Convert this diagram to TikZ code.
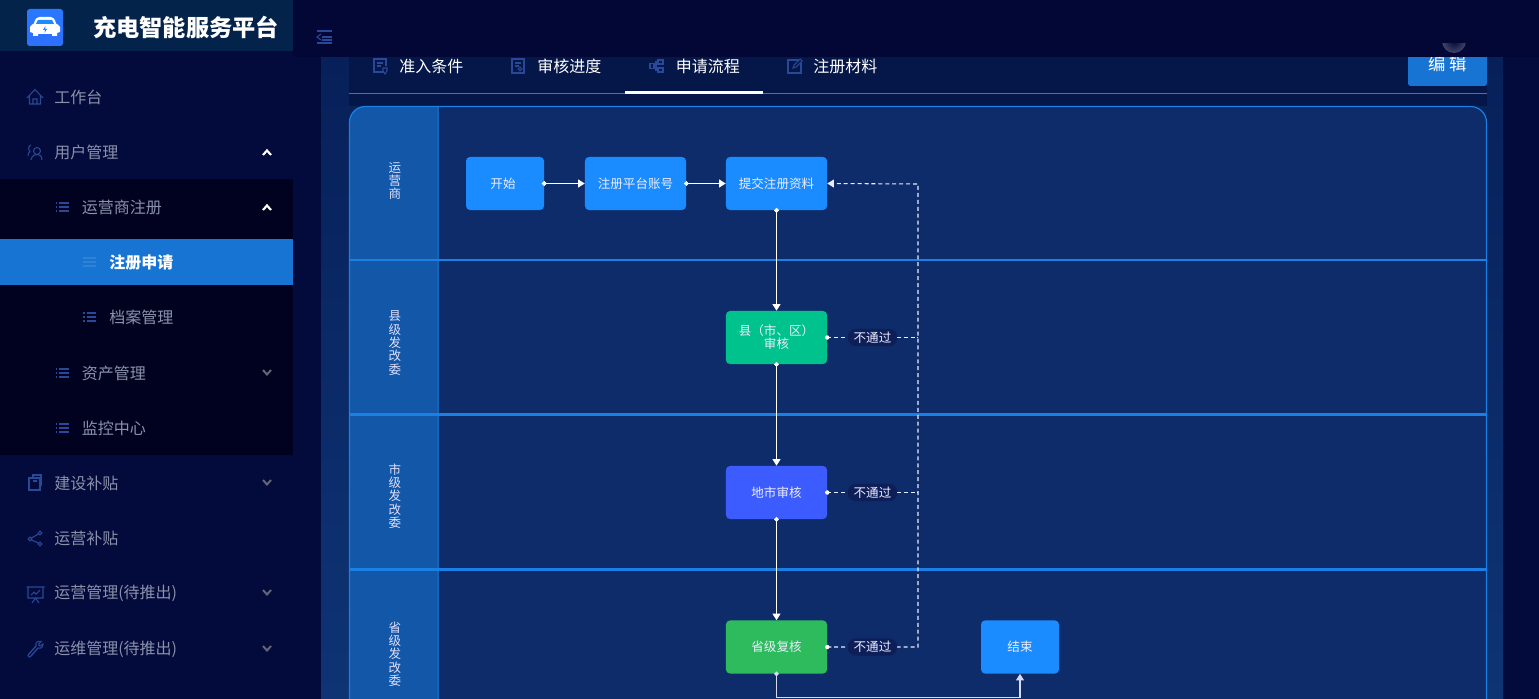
\documentclass[tikz,border=0pt]{standalone}
\usepackage{fontspec}
\setmainfont{Noto Sans CJK SC}
\usetikzlibrary{arrows.meta,calc}
\definecolor{pagebg}{HTML}{020B3B}
\definecolor{topbg}{HTML}{020736}
\definecolor{logobg}{HTML}{04234A}
\definecolor{subbg}{HTML}{01021F}
\definecolor{activebg}{HTML}{1874D2}
\definecolor{tabbg}{HTML}{051748}
\definecolor{lanebg}{HTML}{0E2C6A}
\definecolor{headbg}{HTML}{1257A8}
\definecolor{laneline}{HTML}{1A80E6}
\definecolor{iconblue}{HTML}{2A4898}
\definecolor{panelhigh}{HTML}{07205A}
\definecolor{panellow}{HTML}{0E3474}
\definecolor{menutext}{HTML}{8B91AA}
\definecolor{nodeblue}{HTML}{1A8CFF}
\definecolor{nodeteal}{HTML}{00C28C}
\definecolor{nodeindigo}{HTML}{3D5CFF}
\definecolor{nodegreen}{HTML}{2DBB5D}
\definecolor{passbg}{HTML}{0D1E58}
\newcommand{\fs}[1]{\fontsize{#1pt}{#1pt}\selectfont}
\newcommand{\iconlist}[2]{\begin{scope}[shift={(#1,#2)},iconblue,line width=0.8pt]
 \foreach \yy in {-4,0,4}{\draw (-6.5,\yy)--(-5,\yy); \draw (-3,\yy)--(6.5,\yy);}
 \end{scope}}
\newcommand{\chevup}[3]{\draw[#3,line width=1.6pt] (#1-4,#2+2.5)--(#1,#2-2)--(#1+4,#2+2.5);}
\newcommand{\chevdown}[2]{\draw[menutext!70!black,line width=1.5pt] (#1-4,#2-2.5)--(#1,#2+2)--(#1+4,#2-2.5);}
\tikzset{
 x=0.75pt,y=-0.75pt,
 flowbox/.style={rounded corners=3pt,text=white!93!blue,font=\fs{9.4},inner sep=0pt,minimum height=39.8pt,align=center},
 boxwide/.style={flowbox,minimum width=75.8pt},
 boxnarrow/.style={flowbox,minimum width=58.5pt},
 menuitem/.style={anchor=west,text=menutext,font=\fs{12},inner sep=0pt},
 tabitem/.style={anchor=west,text=white,font=\fs{12},inner sep=0pt},
 lanetext/.style={text=white!88!blue,font=\fontsize{9.4pt}{10pt}\selectfont,align=center,inner sep=0pt},
 passtag/.style={fill=passbg,rounded corners=6pt,text=white!93!blue,font=\fs{9.4},inner sep=0pt,minimum width=37pt,minimum height=13pt},
 flowline/.style={white,line width=1pt,{Circle[length=3.4pt,width=3.4pt]}-{Triangle[length=5pt,width=6pt]},shorten <=-1.7pt},
 rejectline/.style={white!92!blue,line width=0.8pt,dash pattern=on 3pt off 2.2pt},
}
\begin{document}
\begin{tikzpicture}
\useasboundingbox (0,0) rectangle (1539,699);
\clip (0,0) rectangle (1539,699);
% backgrounds
\fill[pagebg] (0,0) rectangle (1539,699);
\shade[top color=panelhigh,bottom color=panellow] (321,57) rectangle (1503,699);
\fill[tabbg] (349,57) rectangle (1487,106);
% edit button (partly under the top bar)
\fill[activebg,rounded corners=2pt] (1408,40) rectangle (1487,86);
\node[anchor=center,text=white,font=\fs{13}] (editbtn) at (1447.5,64) {编 辑};
% tabs
\draw[laneline,line width=0.9pt] (349,93.5)--(1487,93.5);
\draw[white,line width=1.6pt] (625,92.5)--(763,92.5);
\node[tabitem] (tab1) at (399,66) {准入条件};
\node[tabitem] (tab2) at (537,66) {审核进度};
\node[tabitem] (tab3) at (675.5,66) {申请流程};
\node[tabitem] (tab4) at (813,66) {注册材料};
\begin{scope}[iconblue,line width=0.8pt]
 \draw (384,72)--(374,72)--(374,59)--(386,59)--(386,66);
 \draw (377,63)--(383,63) (377,66)--(381,66);
 \draw (383,68)--(387,68)--(387,71)--(385,74)--(383,71)--cycle;
 \draw (512,59) rectangle (524,73);
 \draw (515,63)--(521,63) (515,66)--(519,66);
 \draw (520,69) circle (1.8);
 \draw (650,63.5) rectangle (654,68.5);
 \draw (658,60) rectangle (663,64) (658,68) rectangle (663,72);
 \draw (654,66)--(656,66) (658,62)--(656,62)--(656,70)--(658,70);
 \draw (799,60)--(788,60)--(788,73)--(801,73)--(801,63);
 \draw (793,68)--(794,65)--(800,59)--(802,61)--(796,67)--cycle;
\end{scope}
% swimlane
\begin{scope}
 \clip[rounded corners=12pt] (349,106) rectangle (1487,760);
 \fill[lanebg] (349,106) rectangle (1487,760);
 \fill[headbg] (349,106) rectangle (438,760);
 \draw[headbg!70!laneline,line width=1.2pt] (438,106)--(438,760);
 \foreach \yy in {260,414.5,569.5}{\draw[laneline,line width=1.8pt] (349,\yy)--(1487,\yy);}
\end{scope}
\draw[laneline,line width=0.85pt,rounded corners=12pt] (349.5,760)--(349.5,106.5)--(1486.5,106.5)--(1486.5,760);
\node[lanetext] (lane1) at (395,181) {运\\营\\商};
\node[lanetext] (lane2) at (395,343) {县\\级\\发\\改\\委};
\node[lanetext] (lane3) at (395,496) {市\\级\\发\\改\\委};
\node[lanetext] (lane4) at (395,654) {省\\级\\发\\改\\委};
% flow nodes
\node[boxnarrow,fill=nodeblue] (start) at (505,183.5) {开始\hspace*{3pt}};
\node[boxwide,fill=nodeblue] (account) at (635.5,183.5) {注册平台账号};
\node[boxwide,fill=nodeblue] (submit) at (776.5,183.5) {提交注册资料};
\node[boxwide,fill=nodeteal,font=\fontsize{9.4pt}{9.8pt}\selectfont] (county) at (776.5,337.5) {县（市、区）\\审核};
\node[boxwide,fill=nodeindigo] (city) at (776.5,492.5) {地市审核};
\node[boxwide,fill=nodegreen] (province) at (776.5,647) {省级复核};
\node[boxnarrow,fill=nodeblue] (finish) at (1020,647) {结束};
\coordinate (rail) at (918,184);
\coordinate (lowrun) at (900,697.5);
% connectors
\draw[flowline] (start.east)--(account.west);
\draw[flowline] (account.east)--(submit.west);
\draw[flowline] (submit.south)--(county.north);
\draw[flowline] (county.south)--(city.north);
\draw[flowline] (city.south)--(province.north);
\draw[flowline,white!85!blue] (province.south) |- (lowrun) -| (finish.south);
\draw[rejectline,-{Triangle[length=5pt,width=6pt]}] (province.east) -| (rail) -- (submit.east);
\draw[rejectline] (county.east)--(county.east -| rail);
\draw[rejectline] (city.east)--(city.east -| rail);
\foreach \n in {county,city,province}{\fill[white] (\n.east) circle (2.2);}
\node[passtag] (pass1) at (872.5,337.5) {不通过};
\node[passtag] (pass2) at (872.5,492.5) {不通过};
\node[passtag] (pass3) at (872.5,647) {不通过};
% top bar
\fill[topbg] (293,0) rectangle (1539,57);
\begin{scope}
 \clip (1440,44) rectangle (1470,57);
 \shade[inner color=topbg,outer color=menutext!45!topbg] (1454,41) circle (12);
\end{scope}
\begin{scope}[iconblue,line width=0.8pt]
 \draw (317,31)--(332,31) (322,37)--(332,37) (322,40)--(332,40) (317,43)--(332,43);
 \draw (321,34)--(317,37)--(321,40);
\end{scope}
% sidebar
\fill[pagebg] (0,0) rectangle (293,699);
\fill[logobg] (0,0) rectangle (293,51);
\fill[subbg] (0,179) rectangle (293,455);
\fill[activebg] (0,239) rectangle (293,285);
% logo
\shade[top color=nodeblue!60!nodeindigo,bottom color=nodeindigo!60!nodeblue,rounded corners=2pt] (27,9) rectangle (63,46);
\fill[white] (30,32)--(30,27) .. controls (31,25) and (33,24) .. (34,23.5) .. controls (35,19) and (37,17) .. (39,17)--(51,17) .. controls (53,17) and (55,19) .. (56,23.5) .. controls (57,24) and (59,25) .. (60,27)--(60,32)--(57,33)--(57,36)--(52,36)--(52,34)--(38,34)--(38,36)--(33,36)--(33,33)--cycle;
\fill[nodeblue] (38,20)--(52,20)--(54,24)--(36,24)--cycle;
\fill[nodeblue] (45.5,26)--(43,30)--(45,30)--(44.5,33)--(47,29)--(45,29)--cycle;
\node[anchor=west,text=white,font=\fs{17.4}\bfseries,inner sep=0pt] (brand) at (93,27.5) {充电智能服务平台};
% menu
\node[menuitem] (m1) at (54,97.5) {工作台};
\node[menuitem] (m2) at (54,152.5) {用户管理};
\node[menuitem] (m3) at (81.5,207.5) {运营商注册};
\node[menuitem,text=white,font=\fs{12}\bfseries] (m4) at (109,262.5) {注册申请};
\node[menuitem] (m5) at (109,317.5) {档案管理};
\node[menuitem] (m6) at (81.5,373.5) {资产管理};
\node[menuitem] (m7) at (81.5,428.5) {监控中心};
\node[menuitem] (m8) at (54,483.5) {建设补贴};
\node[menuitem] (m9) at (54,538.5) {运营补贴};
\node[menuitem] (m10) at (54,593.5) {运营管理(待推出)};
\node[menuitem] (m11) at (54,649.5) {运维管理(待推出)};
\chevup{267}{152.5}{white}
\chevup{267}{207.5}{white}
\chevdown{267}{372.5}
\chevdown{267}{482.5}
\chevdown{267}{592.5}
\chevdown{267}{648.5}
\iconlist{62}{207}
\iconlist{89.5}{317}
\iconlist{62}{373}
\iconlist{62}{428}
\begin{scope}[shift={(89.5,262)},activebg!90!white,line width=0.8pt]
 \foreach \yy in {-4,0,4}{\draw (-6.5,\yy)--(6.5,\yy);}
\end{scope}
\begin{scope}[iconblue,line width=0.8pt]
 % house
 \draw (27,98)--(35,89.5)--(43,98) (29.5,96)--(29.5,104)--(40.5,104)--(40.5,96) (33,104)--(33,99)--(37,99)--(37,104);
 % users
 \draw (37,151) circle (3.5);
 \draw (31,160) .. controls (32,155) and (35,154.5) .. (37,154.5) .. controls (39,154.5) and (42,155) .. (42,160);
 \draw (31,145) .. controls (28,146) and (28,150) .. (30,151.5) .. controls (28.5,152.5) and (28,154) .. (28,156);
 % doc
 \draw (29,478)--(29,490)--(40,490)--(40,478)--cycle (33,478)--(33,475)--(41,475)--(41,486);
 \draw (33,481)--(37,481);
 % share
 \draw (40,533) circle (1.8) (30,539) circle (1.8) (40,544) circle (1.8);
 \draw (38.5,534)--(31.5,538) (31.5,540)--(38.5,543);
 % board
 \draw (28,587) rectangle (43,598) (26.5,587)--(44.5,587) (35.5,598)--(32,603) (35.5,598)--(39,603);
 \draw (31,595)--(34,592)--(36,594)--(40,590);
 % wrench
 \draw[line width=1pt] (29,654)--(36,646) (31,656)--(38,648);
 \draw (29,654)--(28,655.5)--(29.5,657)--(31,656);
 \draw (36,646) .. controls (35,642) and (38,641) .. (41,641.5)--(38.5,644.5)--(40,646)--(43,644) .. controls (43,647) and (41,649) .. (38,648);
\end{scope}
\end{tikzpicture}
\end{document}
